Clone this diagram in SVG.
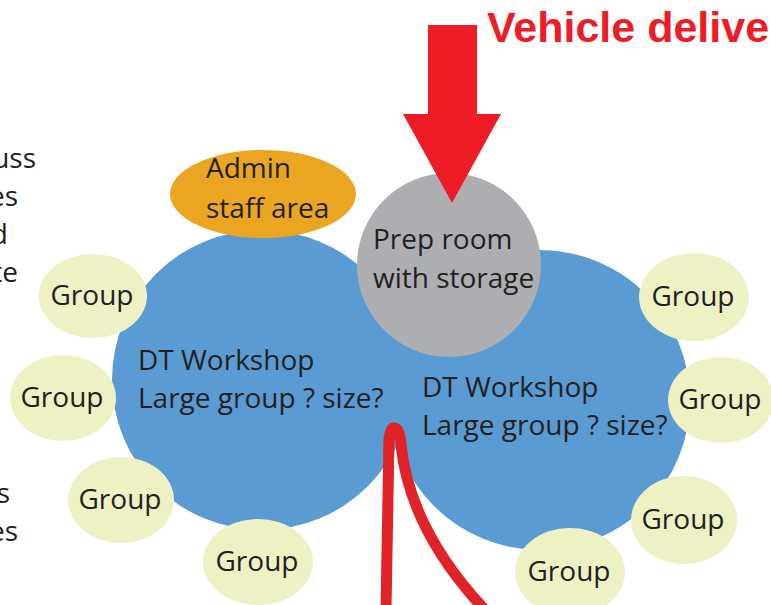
<svg xmlns="http://www.w3.org/2000/svg" width="771" height="605" viewBox="0 0 771 605">
<style>
.t{font-family:"Open Sans","Noto Sans",sans-serif;font-size:28px;fill:#231f20}
.g{fill:#eef1c3}
.ws{fill:#5b9bd3}
.c{text-anchor:middle}
</style>
<rect width="771" height="605" fill="#fff"/>
<g id="fragments">
<text class="t" x="36" y="168" text-anchor="end">uss</text>
<text class="t" x="18" y="206" text-anchor="end">es</text>
<text class="t" x="8" y="244" text-anchor="end">d</text>
<text class="t" x="18" y="282" text-anchor="end">te</text>
<text class="t" x="10" y="503" text-anchor="end">s</text>
<text class="t" x="18" y="541" text-anchor="end">es</text>
</g>
<g id="workshop-left">
<circle class="ws" cx="262" cy="380" r="150"/>
</g>
<g id="workshop-right">
<circle class="ws" cx="540" cy="400" r="150"/>
</g>
<g id="workshop-left-label">
<text class="t" x="138" y="370">DT Workshop</text>
<text class="t" x="138" y="408">Large group ? size?</text>
</g>
<g id="workshop-right-label">
<text class="t" x="422" y="397">DT Workshop</text>
<text class="t" x="422" y="435">Large group ? size?</text>
</g>
<g id="admin">
<ellipse cx="263" cy="194" rx="93" ry="44" fill="#eaa621"/>
<text class="t" x="206" y="178">Admin</text>
<text class="t" x="206" y="218">staff area</text>
</g>
<g id="prep">
<circle cx="449" cy="265" r="92" fill="#adaeb1"/>
<text class="t" x="373" y="249">Prep room</text>
<text class="t" x="373" y="288">with storage</text>
</g>
<g id="group1"><ellipse class="g" cx="93" cy="296" rx="54" ry="42"/><text class="t c" x="92" y="305">Group</text></g>
<g id="group2"><ellipse class="g" cx="63" cy="398" rx="53" ry="43"/><text class="t c" x="62" y="407">Group</text></g>
<g id="group3"><ellipse class="g" cx="121" cy="500" rx="53" ry="43"/><text class="t c" x="120" y="509">Group</text></g>
<g id="group4"><ellipse class="g" cx="258" cy="562" rx="55" ry="43"/><text class="t c" x="257" y="571">Group</text></g>
<g id="group5"><ellipse class="g" cx="694" cy="297" rx="55" ry="44"/><text class="t c" x="693" y="306">Group</text></g>
<g id="group6"><ellipse class="g" cx="721" cy="400" rx="53" ry="43"/><text class="t c" x="720" y="409">Group</text></g>
<g id="group7"><ellipse class="g" cx="684" cy="520" rx="53" ry="44"/><text class="t c" x="683" y="529">Group</text></g>
<g id="group8"><ellipse class="g" cx="570" cy="572" rx="55" ry="44"/><text class="t c" x="569" y="581">Group</text></g>
<g id="connectors">
<path d="M386 610 L389 440 Q390 428 394 428 Q400 428 401 445 Q410 530 485 610" fill="none" stroke="#e02327" stroke-width="11" stroke-linejoin="round" stroke-linecap="round"/>
<polygon points="428,25 477,25 477,114 501,114 452,203 403,114 428,114" fill="#ee1c25"/>
</g>
<text x="487" y="42" font-family="Liberation Sans,Arial,sans-serif" font-weight="bold" font-size="43" fill="#ee1c25">Vehicle delive</text>
</svg>
